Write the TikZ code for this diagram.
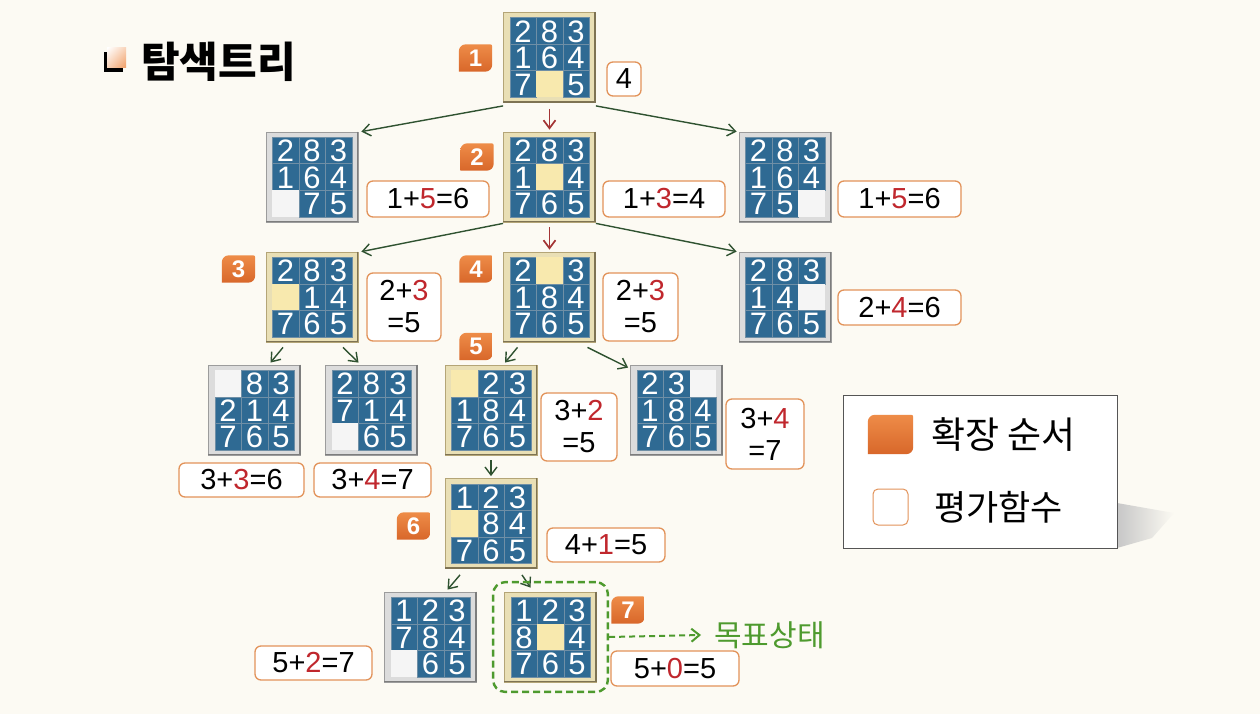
\documentclass[tikz,border=0pt]{standalone}
\usepackage{fontspec}
\setmainfont{Liberation Sans}
\newfontfamily\kr{Noto Sans CJK KR}
\usetikzlibrary{arrows.meta,calc,fit,shadings}
\definecolor{bg}{HTML}{FCFAF3}
\definecolor{tileblue}{HTML}{2F6A93}
\definecolor{tilesep}{HTML}{6F8FA6}
\definecolor{goldfill}{HTML}{E9DFB5}
\definecolor{goldedge}{HTML}{B4A577}
\definecolor{goldblank}{HTML}{F8E9AE}
\definecolor{grayfill}{HTML}{DCDCDC}
\definecolor{grayedge}{HTML}{9C9C9C}
\definecolor{grayblank}{HTML}{F5F5F5}
\definecolor{badgetop}{HTML}{EE8C48}
\definecolor{badgebot}{HTML}{D8672A}
\definecolor{evb}{HTML}{E2935A}
\definecolor{rednum}{HTML}{C0272D}
\definecolor{conng}{HTML}{2F5230}
\definecolor{connr}{HTML}{A33434}
\definecolor{goalc}{HTML}{4E9A2E}
\definecolor{legedge}{HTML}{555555}
\newcommand\rn[1]{\textcolor{rednum}{#1}}
\newcommand\cellx[1]{\makebox[26.5pt]{\ifnum#1=0 \else#1\fi}}
\def\gridtext#1,#2,#3,#4,#5,#6,#7,#8,#9\relax{\cellx{#1}\cellx{#2}\cellx{#3}\\\cellx{#4}\cellx{#5}\cellx{#6}\\\cellx{#7}\cellx{#8}\cellx{#9}}
\tikzset{
  conn/.style={draw=conng, line width=1.4pt, -{Straight Barb[length=8pt,width=12pt]}},
  connr/.style={draw=connr, line width=1.7pt, -{Straight Barb[length=8pt,width=12pt]}},
  framegold/.style={draw=goldedge, fill=goldfill, line width=0.8pt, minimum width=92pt, minimum height=90pt, inner sep=0pt},
  framegray/.style={draw=grayedge, fill=grayfill, line width=0.8pt, minimum width=92pt, minimum height=90pt, inner sep=0pt},
  rimgold/.style={draw=goldedge!70!black, line width=1.6pt},
  rimgray/.style={draw=grayedge!80!black, line width=1.6pt},
  blankgold/.style={fill=goldblank},
  blankgray/.style={fill=grayblank},
  tile/.style={draw=tilesep, line width=0.5pt},
  digits/.style={text=white, font=\fontsize{31}{26.5}\selectfont, inner sep=0pt, align=center},
  ev/.style={draw=evb, fill=white, line width=1.3pt, rounded corners=6pt, inner sep=0pt, align=center, font=\fontsize{29}{32}\selectfont},
  badgen/.style={minimum width=33pt, minimum height=27pt, inner sep=0pt},
  badgetxt/.style={text=white, font=\bfseries\fontsize{24}{24}\selectfont, inner sep=0pt},
}
\newcommand\puz[4]{%
  \node[frame#3] (#1) at (#2) {};
  \draw[rim#3] ([xshift=-0.8pt]#1.north east) -- ([xshift=-0.8pt,yshift=0.8pt]#1.south east) -- ([yshift=0.8pt]#1.south west);
  \fill[tileblue] ($(#1.center)+(-39.75,-39.75)$) rectangle ($(#1.center)+(39.75,39.75)$);
  \foreach \d [count=\i from 0] in {#4}{%
    \pgfmathtruncatemacro\rr{\i/3}%
    \pgfmathtruncatemacro\cc{\i-3*\rr}%
    \ifnum\d=0\relax
      \fill[blank#3] ($(#1.center)+({(\cc-1)*26.5-13.25},{(\rr-1)*26.5-13.25})$) rectangle +(26.5,26.5);
    \else
      \draw[tile] ($(#1.center)+({(\cc-1)*26.5-13.25},{(\rr-1)*26.5-13.25})$) rectangle +(26.5,26.5);
    \fi
  }%
  \node[digits] (#1d) at ([yshift=-0.5pt]#1.center) {\gridtext#4\relax};
}
\newcommand\leaf[1]{%
  \shade[top color=badgetop, bottom color=badgebot] (#1.west) [rounded corners=7pt] -- (#1.north west) [rounded corners=2pt] -- (#1.north east) [rounded corners=7pt] -- (#1.south east) [sharp corners] -- (#1.south west) -- cycle;}
\newcommand\badge[3]{%
  \node[badgen] (#1) at (#2) {};
  \leaf{#1}
  \node[badgetxt] (#1t) at (#1.center) {#3};}
\begin{document}
\begin{tikzpicture}[x=1pt,y=-1pt]
\fill[bg] (0,0) rectangle (1260,714);
\useasboundingbox (0,0) rectangle (1260,714);

% title
\fill[black] (104,52) rectangle (123,72);
\shade[upper left=white, upper right=white!60!badgetop, lower left=white!60!badgetop, lower right=badgetop!85!white] (107,48) rectangle (126,68);
\node[anchor=west, font=\kr\bfseries\fontsize{42}{42}\selectfont, inner sep=0pt] (title) at (141,62) {탐색트리};

% puzzles
\puz{P1}{549.5,57.5}{gold}{2,8,3,1,6,4,7,0,5}
\puz{P2L}{312,177}{gray}{2,8,3,1,6,4,0,7,5}
\puz{P2M}{549.5,177}{gold}{2,8,3,1,0,4,7,6,5}
\puz{P2R}{785,177}{gray}{2,8,3,1,6,4,7,5,0}
\puz{P3L}{312,297}{gold}{2,8,3,0,1,4,7,6,5}
\puz{P3M}{549.5,297}{gold}{2,0,3,1,8,4,7,6,5}
\puz{P3R}{785,297}{gray}{2,8,3,1,4,0,7,6,5}
\puz{P4a}{254.5,410}{gray}{0,8,3,2,1,4,7,6,5}
\puz{P4b}{371.5,410}{gray}{2,8,3,7,1,4,0,6,5}
\puz{P4c}{491,410}{gold}{0,2,3,1,8,4,7,6,5}
\puz{P4d}{676.5,410}{gray}{2,3,0,1,8,4,7,6,5}
\puz{P5}{491,523.5}{gold}{1,2,3,0,8,4,7,6,5}
\puz{P6a}{430.5,637}{gray}{1,2,3,7,8,4,0,6,5}
\puz{P6b}{550.5,637}{gold}{1,2,3,8,0,4,7,6,5}

% badges
\badge{B1}{475.5,58}{1}
\badge{B2}{477,157}{2}
\badge{B3}{238.5,269}{3}
\badge{B4}{476,269}{4}
\badge{B5}{476,346.5}{5}
\badge{B6}{413.5,526}{6}
\badge{B7}{628,610}{7}

% evaluations
\node[ev, minimum width=34pt, minimum height=34pt] (E1) at (624,79) {4};
\node[ev, minimum width=122pt, minimum height=36pt] (E2L) at (428,199) {1+\rn{5}=6};
\node[ev, minimum width=122pt, minimum height=36pt] (E2M) at (664,199) {1+\rn{3}=4};
\node[ev, minimum width=123pt, minimum height=36pt] (E2R) at (899.5,199) {1+\rn{5}=6};
\node[ev, minimum width=74pt, minimum height=68pt] (E3L) at (404,307) {2+\rn{3}\\=5};
\node[ev, minimum width=75pt, minimum height=68pt] (E3M) at (640.5,307) {2+\rn{3}\\=5};
\node[ev, minimum width=123pt, minimum height=35pt] (E3R) at (899.5,307.5) {2+\rn{4}=6};
\node[ev, minimum width=125pt, minimum height=34pt] (E4a) at (241.5,480) {3+\rn{3}=6};
\node[ev, minimum width=117pt, minimum height=34pt] (E4b) at (372.5,480) {3+\rn{4}=7};
\node[ev, minimum width=76pt, minimum height=68pt] (E4c) at (579,427) {3+\rn{2}\\=5};
\node[ev, minimum width=78pt, minimum height=70pt] (E4d) at (765,434) {3+\rn{4}\\=7};
\node[ev, minimum width=118pt, minimum height=34pt] (E5) at (606,545) {4+\rn{1}=5};
\node[ev, minimum width=117pt, minimum height=34pt] (E6a) at (313.5,663) {5+\rn{2}=7};
\node[ev, minimum width=128pt, minimum height=35pt] (E6b) at (675,668.5) {5+\rn{0}=5};

% connectors
\draw[conn] ([yshift=-3pt]P1.south west) -- ([xshift=3pt]P2L.north east);
\draw[conn] ([yshift=-3pt]P1.south east) -- ([xshift=-2pt]P2R.north west);
\draw[connr] ([yshift=-6pt]P1.south) -- ([yshift=2pt]P2M.north);
\draw[conn] ([yshift=-1pt]P2M.south west) -- ([xshift=3pt]P3L.north east);
\draw[conn] ([yshift=-1pt]P2M.south east) -- ([xshift=-2pt]P3R.north west);
\draw[connr] ([yshift=-5pt]P2M.south) -- ([yshift=2pt]P3M.north);
\draw[conn] ([xshift=-29pt,yshift=-5pt]P3L.south) -- ([xshift=16pt,yshift=2pt]P4a.north);
\draw[conn] ([xshift=31pt,yshift=-5pt]P3L.south) -- ([xshift=-13pt,yshift=2pt]P4b.north);
\draw[conn] ([xshift=-32pt,yshift=-5pt]P3M.south) -- ([xshift=14pt,yshift=2pt]P4c.north);
\draw[conn] ([xshift=38pt,yshift=-5pt]P3M.south) -- ([xshift=-2pt,yshift=-3pt]P4d.north west);
\draw[conn] ([yshift=-5pt]P4c.south) -- ([yshift=2pt]P5.north);
\draw[conn] ([xshift=-31pt,yshift=-6pt]P5.south) -- ([xshift=17pt,yshift=2pt]P6a.north);
\draw[conn] ([xshift=31pt,yshift=-6pt]P5.south) -- ([xshift=-20pt,yshift=4pt]P6b.north);

% goal
\node[draw=goalc, dashed, dash pattern=on 7pt off 4pt, line width=2.4pt, rounded corners=12pt, fit=(P6b), inner xsep=11pt, inner ysep=9.5pt] (G) {};
\node[anchor=west, text=goalc, font=\kr\fontsize{30}{30}\selectfont, inner sep=0pt] (goal) at (714,635) {목표상태};
\draw[draw=goalc, line width=2pt, dash pattern=on 6pt off 4pt, -{Straight Barb[length=8pt,width=13pt]}] (G.east) -- ([xshift=-13pt]goal.west);

% legend
\shade[left color=black!22, right color=bg] (1117,503) -- (1174,513) -- (1152,538) -- (1117,548) -- cycle;
\node[draw=legedge, fill=white, line width=1pt, minimum width=274pt, minimum height=153pt, anchor=north west, inner sep=0pt] (L) at (843,395) {};
\node[minimum width=45pt, minimum height=39pt, inner sep=0pt] (LS1) at (890.5,434.5) {};
\leaf{LS1}
\node[draw=evb, fill=white, line width=1pt, rounded corners=5pt, minimum width=35pt, minimum height=36pt, inner sep=0pt] (LS2) at (890.5,507) {};
\node[anchor=west, font=\kr\fontsize{37}{37}\selectfont, inner sep=0pt] (LT1) at (931,435) {확장 순서};
\node[anchor=west, font=\kr\fontsize{35}{35}\selectfont, inner sep=0pt] (LT2) at (934,507) {평가함수};
\end{tikzpicture}
\end{document}
